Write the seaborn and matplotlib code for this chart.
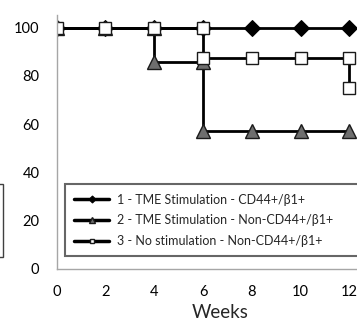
import matplotlib
matplotlib.use('Agg')
import matplotlib.pyplot as plt
import matplotlib.patches as mpatches
import seaborn as sns

# ── Survival data (step points as plotted) ────────────────────
weeks1 = [0, 2, 4, 6, 8, 10, 12]
surv1 = [100, 100, 100, 100, 100, 100, 100]

weeks2 = [0, 2, 4, 4, 6, 6, 8, 10, 12]
surv2 = [100, 100, 100, 85.7, 85.7, 57.1, 57.1, 57.1, 57.1]

weeks3 = [0, 2, 4, 6, 6, 8, 10, 12, 12]
surv3 = [100, 100, 100, 100, 87.5, 87.5, 87.5, 87.5, 75]

labels = [
    '1 - TME Stimulation - CD44+/\u03b21+',
    '2 - TME Stimulation - Non-CD44+/\u03b21+',
    '3 - No stimulation - Non-CD44+/\u03b21+',
]
xticks = [0, 2, 4, 6, 8, 10, 12]
yticks = [0, 20, 40, 60, 80, 100]

sns.set_style('white')
plt.rcParams['font.family'] = ['Lato', 'DejaVu Sans']

SPINE = '#a6a6a6'
EDGE = '#1a1a1a'

fig = plt.figure(figsize=(3.57, 3.24), dpi=100)
ax = fig.add_axes([0.1588, 0.1707, 0.8412, 0.7830])

sns.lineplot(x=weeks1, y=surv1, ax=ax, sort=False, estimator=None,
             color='black', lw=2, marker='D', markersize=8.5,
             markerfacecolor='black', markeredgecolor='black',
             label=labels[0])
sns.lineplot(x=weeks2, y=surv2, ax=ax, sort=False, estimator=None,
             color='black', lw=2, marker='^', markersize=10,
             markerfacecolor='#6e6e6e', markeredgecolor=EDGE,
             markeredgewidth=1, label=labels[1])
sns.lineplot(x=weeks3, y=surv3, ax=ax, sort=False, estimator=None,
             color='black', lw=2, marker='s', markersize=8.5,
             markerfacecolor='white', markeredgecolor=EDGE,
             markeredgewidth=1, label=labels[2])

ax.set_xlim(0, 12.31)
ax.set_ylim(0, 105.3)
ax.set_xticks(xticks)
ax.set_yticks(yticks)
ax.tick_params(axis='both', which='both', direction='out', length=5,
               width=1, color=SPINE, labelsize=10.5, labelcolor='black')
ax.tick_params(axis='y', pad=7.5)
ax.tick_params(axis='x', pad=6.5)

for side in ['top', 'right']:
    ax.spines[side].set_visible(False)
for side in ['left', 'bottom']:
    ax.spines[side].set_color(SPINE)
    ax.spines[side].set_linewidth(1)

ax.set_xlabel('Weeks', fontsize=13.5)
ax.set_ylabel('')
ax.xaxis.set_label_coords(0.544, -0.138)

leg = ax.legend(loc='upper left', bbox_to_anchor=(0.182, 0.2037, 0.95, 0.228),
                bbox_transform=fig.transFigure, mode='expand',
                borderaxespad=0, fontsize=9, frameon=True, fancybox=False,
                markerscale=0.42, handlelength=2.8, handletextpad=0.65,
                borderpad=0.75, labelspacing=0.7)
frame = leg.get_frame()
frame.set_edgecolor('#404040')
frame.set_linewidth(1.5)
for line in leg.get_lines():
    line.set_linewidth(2.5)

# partially visible box at the left edge
fig.patches.append(mpatches.Rectangle(
    (-0.05, 0.2068), 0.0598, 0.2252, transform=fig.transFigure,
    fill=False, edgecolor='#404040', lw=1))

plt.savefig('out.png', dpi=100)
